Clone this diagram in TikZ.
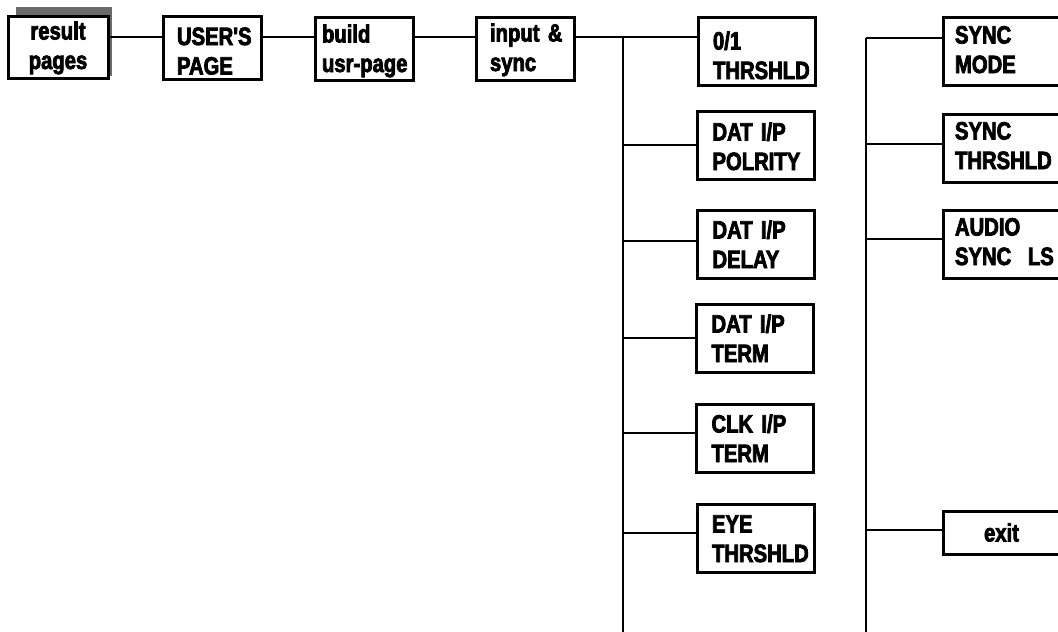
\documentclass[tikz,border=0pt]{standalone}
\usepackage{fontspec}
\newfontfamily\cf{Liberation Sans Bold}[FakeStretch=0.81, FakeBold=3]
\newcommand\boxfont{\cf\fontsize{25}{29.5}\selectfont}
\hyphenpenalty=10000 \exhyphenpenalty=10000 \uchyph=0
\definecolor{shadowgray}{HTML}{6B6B6B}
\tikzset{
  bx/.style={draw, line width=3pt, fill=white, font=\boxfont, inner ysep=0pt, align=left},
  tp/.style={text height=17pt, text depth=#1},
  ln/.style={line width=2.6pt},
  colA/.style={bx, minimum width=117pt, minimum height=68pt, text width=87pt, inner xsep=15pt},
  colB/.style={bx, minimum width=117pt, minimum height=68pt, text width=93pt, inner xsep=12pt},
}
\begin{document}
\begin{tikzpicture}[x=1pt,y=-1pt]
\useasboundingbox (0,0) rectangle (1058,632);
\clip (0,0) rectangle (1058,632);
% top row
\node[fill=shadowgray, minimum width=96pt, minimum height=69pt, inner sep=0pt] (shadow) at (64,41.5) {};
\node[bx, align=center, minimum width=100pt, minimum height=62pt, text width=90pt, inner xsep=5pt, tp=32pt] (result) at (58,47) {result\\pages};
\node[bx, minimum width=98pt, minimum height=63pt, text width=70pt, inner xsep=14pt, tp=22pt] (users) at (212,47.5) {USER'S\\PAGE};
\node[bx, minimum width=98pt, minimum height=63pt, text width=84pt, inner xsep=7pt, tp=29pt] (build) at (364,48.5) {build\\\mbox{usr-page}};
\node[bx, minimum width=98pt, minimum height=63pt, text width=70pt, inner xsep=14pt, tp=31pt] (input) at (525,48.5) {input~\&\\sync};
% column A
\node[colA, tp=20pt] (th01) at (756.5,51) {0/1\\THRSHLD};
\node[colA, tp=27pt] (polrity) at (756,145.5) {DAT~I/P\\POLRITY};
\node[colA, tp=28pt] (delay) at (756,244) {DAT~I/P\\DELAY};
\node[colA, tp=29pt] (term) at (755,338.5) {DAT~I/P\\TERM};
\node[colA, tp=28pt] (clk) at (755,438) {CLK~I/P\\TERM};
\node[colA, tp=28pt] (eye) at (755.5,538) {EYE\\THRSHLD};
% column B
\node[colB, tp=32pt] (smode) at (1001.5,51) {SYNC\\MODE};
\node[colB, tp=34pt] (sthr) at (1001.5,148) {SYNC\\THRSHLD};
\node[colB, tp=34pt] (audio) at (1001.5,244) {AUDIO\\SYNC~~LS};
\node[bx, align=center, minimum width=117pt, minimum height=43pt, text width=100pt, inner xsep=8pt] (exit) at (1001.5,532.5) {exit};
% buses
\coordinate (b1top) at (623,37);
\coordinate (b1bot) at (623,632);
\coordinate (b2top) at (866,38);
\coordinate (b2bot) at (866,632);
\draw[ln] (result.east |- b1top) -- (users.west |- b1top);
\draw[ln] (users.east |- b1top) -- (build.west |- b1top);
\draw[ln] (build.east |- b1top) -- (input.west |- b1top);
\draw[ln] (input.east |- b1top) -- (th01.west |- b1top);
\draw[ln] (b1top) -- (b1bot);
\draw[ln] (b2top) -- (b2bot);
\draw[ln] (b2top) -- (smode.west |- b2top);
\coordinate (pA) at ([yshift=0.5pt]polrity.west);
\coordinate (dA) at ([yshift=3pt]delay.west);
\coordinate (tA) at ([yshift=0.5pt]term.west);
\coordinate (cA) at ([yshift=5pt]clk.west);
\coordinate (eA) at ([yshift=5pt]eye.west);
\draw[ln] (pA) -- (pA -| b1top);
\draw[ln] (dA) -- (dA -| b1top);
\draw[ln] (tA) -- (tA -| b1top);
\draw[ln] (cA) -- (cA -| b1top);
\draw[ln] (eA) -- (eA -| b1top);
\coordinate (sB) at ([yshift=4pt]sthr.west);
\coordinate (aB) at ([yshift=5pt]audio.west);
\coordinate (xB) at ([yshift=2.5pt]exit.west);
\draw[ln] (sB) -- (sB -| b2top);
\draw[ln] (aB) -- (aB -| b2top);
\draw[ln] (xB) -- (xB -| b2top);
\end{tikzpicture}
\end{document}
